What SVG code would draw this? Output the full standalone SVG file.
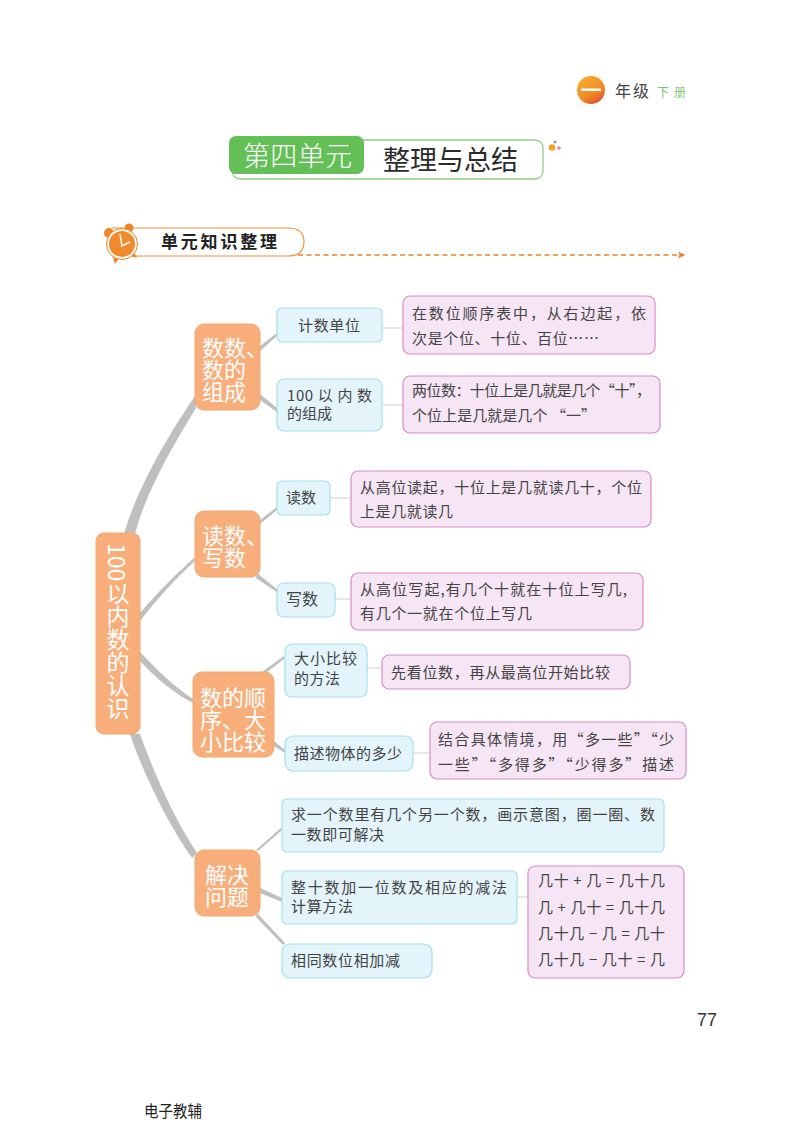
<svg xmlns="http://www.w3.org/2000/svg" width="800" height="1144" viewBox="0 0 800 1144">
<defs>
<linearGradient id="og" x1="0" y1="0" x2="0.6" y2="1"><stop offset="0" stop-color="#f9b233"/><stop offset="0.7" stop-color="#f18a24"/><stop offset="1" stop-color="#e4572e"/></linearGradient>
<marker id="arr" markerWidth="8" markerHeight="8" refX="6" refY="4" orient="auto" markerUnits="userSpaceOnUse"><path d="M0 0.5L7 4L0 7.5L1.5 4Z" fill="#e98228"/></marker>
</defs>
<style>
text{font-family:"Noto Sans CJK SC","Noto Sans",sans-serif}
.b{fill:#f8ae7a;stroke:#f5a771;stroke-width:1}
.bt{fill:#fff;font-size:22px;font-weight:400}
.l{fill:#e3f4fb;stroke:#a5dfea;stroke-width:1.2}
.p{fill:#f6e6f5;stroke:#d88cc4;stroke-width:1.2}
.t{fill:#444;font-size:15px}
.k{fill:#bfbfbf;stroke:none}
.c{stroke:#cfcfcf;stroke-width:1;fill:none}
</style>
<rect width="800" height="1144" fill="#fff"/>
<g id="page-header">
<circle cx="591" cy="90" r="14" fill="url(#og)"/><rect x="581" y="88.500" width="20" height="2.500" fill="#fff"/>
<text x="615" y="97" font-size="16" fill="#444" textLength="34">年级</text>
<text x="657" y="97" font-size="12" fill="#7cc576" textLength="29">下册</text>
</g>
<g id="title">
<rect x="232" y="140" width="311" height="39" rx="8" fill="#fff" stroke="#8fcf84" stroke-width="1.300"/>
<rect x="229" y="136" width="135" height="38" rx="7" fill="#64bf57"/>
<text x="243" y="166" font-size="27" font-weight="300" fill="#fff" textLength="109">第四单元</text>
<text x="383" y="170" font-size="27" fill="#2b2b2b" textLength="135">整理与总结</text>
<circle cx="552" cy="147.500" r="3.300" fill="#f0a32c"/><circle cx="555" cy="142" r="1.500" fill="#9d8fd0"/><circle cx="559" cy="148" r="1.800" fill="#ef7fa3"/>
</g>
<g id="section-header">
<path d="M112 228H288Q304 228 304 242Q304 256 288 256H112" fill="#fff" stroke="#f0913a" stroke-width="1.200"/>
<path d="M298 255H684" stroke="#e98228" stroke-width="1.500" stroke-dasharray="5 3.500" fill="none" marker-end="url(#arr)"/>
<circle cx="109" cy="233" r="5" fill="#ee8427"/><circle cx="129" cy="228" r="4.500" fill="#ee8427"/>
<path d="M113 257L115 264L119 258ZM131 256L137 258L134 252Z" fill="#ee8427"/>
<circle cx="122" cy="244" r="15.500" fill="#fff" stroke="#ee8427" stroke-width="1"/>
<circle cx="122" cy="244" r="13" fill="#f08a2c"/>
<path d="M120 234L122 246L130 242" stroke="#fff" stroke-width="1.500" fill="none"/>
<text x="161" y="248" font-size="17" font-weight="700" fill="#222" textLength="116">单元知识整理</text>
</g>
<g id="connectors">
<path class="k" d="M124 534C134 498 160 447 195 396L196 408C170 450 145 495 135 534Z"/>
<path class="k" d="M140 613C158 592 175 575 195 557L195 561C176 578 158 598 140 621Z"/>
<path class="k" d="M140 652C160 673 175 687 193 699L193 703C172 692 156 678 140 661Z"/>
<path class="k" d="M130 734H140C153 770 172 815 197 853L192 858C165 820 140 765 130 734Z"/>
<path class="k" d="M260 346L277 333V336L260 351Z"/>
<path class="k" d="M260 394L277 408V412L260 400Z"/>
<path class="k" d="M260 520L277 507V510L260 524Z"/>
<path class="k" d="M257 573L278 590V593L256 578Z"/>
<path class="k" d="M262 672L284 656V659L267 672Z"/>
<path class="k" d="M274 741L285 750V753L274 746Z"/>
<path class="k" d="M256 850L282 827V830L258 851Z"/>
<path class="k" d="M260 888L282 898V902L260 893Z"/>
<path class="k" d="M257 913L285 943L283 945L256 917Z"/>
<path class="c" d="M382 328H403M382 405H403M330 498H351M335 599H351M367 668H382M413 753H430M517 897H528"/>
</g>
<g id="root"><rect class="b" x="96" y="533" width="44" height="201" rx="8"/>
<text x="118" y="543" font-size="23" fill="#fff" style="writing-mode:vertical-rl">100以内数的认识</text></g>
<g id="branch-a"><rect class="b" x="195" y="324" width="65" height="86" rx="9"/>
<text class="bt"><tspan x="202" y="356">数数、</tspan><tspan x="202" y="378">数的</tspan><tspan x="202" y="400">组成</tspan></text></g>
<g id="branch-b"><rect class="b" x="195" y="511" width="65" height="66" rx="9"/>
<text class="bt"><tspan x="202" y="544">读数、</tspan><tspan x="202" y="566">写数</tspan></text></g>
<g id="branch-c"><rect class="b" x="193" y="672" width="81" height="85" rx="9"/>
<text class="bt"><tspan x="200" y="706">数的顺</tspan><tspan x="200" y="728">序、大</tspan><tspan x="200" y="750">小比较</tspan></text></g>
<g id="branch-d"><rect class="b" x="195" y="850" width="65" height="66" rx="9"/>
<text class="bt"><tspan x="205" y="883">解决</tspan><tspan x="205" y="905">问题</tspan></text></g>
<g id="leaf-1"><rect class="l" x="277" y="308" width="105" height="34" rx="5"/><text class="t" x="298" y="331" textLength="62">计数单位</text></g>
<g id="leaf-2"><rect class="l" x="277" y="379" width="105" height="52" rx="7"/><text class="t" x="287" y="401" textLength="85">100 以 内 数</text><text class="t" x="287" y="419" textLength="45">的组成</text></g>
<g id="leaf-3"><rect class="l" x="277" y="481" width="53" height="34" rx="5"/><text class="t" x="286" y="503" textLength="30">读数</text></g>
<g id="leaf-4"><rect class="l" x="277" y="583" width="58" height="34" rx="7"/><text class="t" x="286" y="605" style="font-size:16px">写数</text></g>
<g id="leaf-5"><rect class="l" x="285" y="644" width="82" height="53" rx="7"/><text class="t" x="294" y="664" textLength="63">大小比较</text><text class="t" x="294" y="684" textLength="46">的方法</text></g>
<g id="leaf-6"><rect class="l" x="285" y="736" width="128" height="35" rx="8"/><text class="t" x="294" y="759" textLength="108">描述物体的多少</text></g>
<g id="leaf-7"><rect class="l" x="282" y="799" width="382" height="53" rx="5"/><text class="t" x="291" y="820" textLength="364">求一个数里有几个另一个数，画示意图，圈一圈、数</text><text class="t" x="291" y="840" textLength="93">一数即可解决</text></g>
<g id="leaf-8"><rect class="l" x="282" y="871" width="235" height="53" rx="5"/><text class="t" x="291" y="893" textLength="216">整十数加一位数及相应的减法</text><text class="t" x="291" y="912" textLength="62">计算方法</text></g>
<g id="leaf-9"><rect class="l" x="282" y="944" width="150" height="34" rx="8"/><text class="t" x="291" y="966" textLength="109">相同数位相加减</text></g>
<g id="note-1"><rect class="p" x="403" y="296" width="252" height="58" rx="7"/><text class="t" x="412" y="319" textLength="234">在数位顺序表中，从右边起，依</text><text class="t" x="412" y="344" textLength="187">次是个位、十位、百位……</text></g>
<g id="note-2"><rect class="p" x="403" y="376" width="257" height="57" rx="7"/><text class="t" x="412" y="396" textLength="239">两位数：十位上是几就是几个“十”，</text><text class="t" x="412" y="421" textLength="184">个位上是几就是几个 “一”</text></g>
<g id="note-3"><rect class="p" x="351" y="471" width="300" height="56" rx="7"/><text class="t" x="360" y="493" textLength="282">从高位读起，十位上是几就读几十，个位</text><text class="t" x="360" y="517" textLength="93">上是几就读几</text></g>
<g id="note-4"><rect class="p" x="351" y="573" width="292" height="57" rx="7"/><text class="t" x="360" y="595" textLength="267">从高位写起,有几个十就在十位上写几,</text><text class="t" x="360" y="619" textLength="172">有几个一就在个位上写几</text></g>
<g id="note-5"><rect class="p" x="382" y="655" width="248" height="34" rx="7"/><text class="t" x="391" y="678" textLength="219">先看位数，再从最高位开始比较</text></g>
<g id="note-6"><rect class="p" x="430" y="722" width="256" height="57" rx="7"/><text class="t" x="438" y="745" textLength="236">结合具体情境，用“多一些”“少</text><text class="t" x="438" y="770" textLength="236">一些”“多得多”“少得多”描述</text></g>
<g id="note-7"><rect class="p" x="528" y="866" width="156" height="112" rx="7"/><text class="t" x="538" y="886" textLength="127">几十 + 几 = 几十几</text><text class="t" x="538" y="913" textLength="127">几 + 几十 = 几十几</text><text class="t" x="538" y="939" textLength="127">几十几 − 几 = 几十</text><text class="t" x="538" y="965" textLength="127">几十几 − 几十 = 几</text></g>
<g id="footer"><text x="697" y="1026" font-size="18" fill="#333" style="font-family:'Liberation Sans',sans-serif">77</text>
<text x="144" y="1117" font-size="16" fill="#222" textLength="58" lengthAdjust="spacingAndGlyphs">电子教辅</text></g>
</svg>
